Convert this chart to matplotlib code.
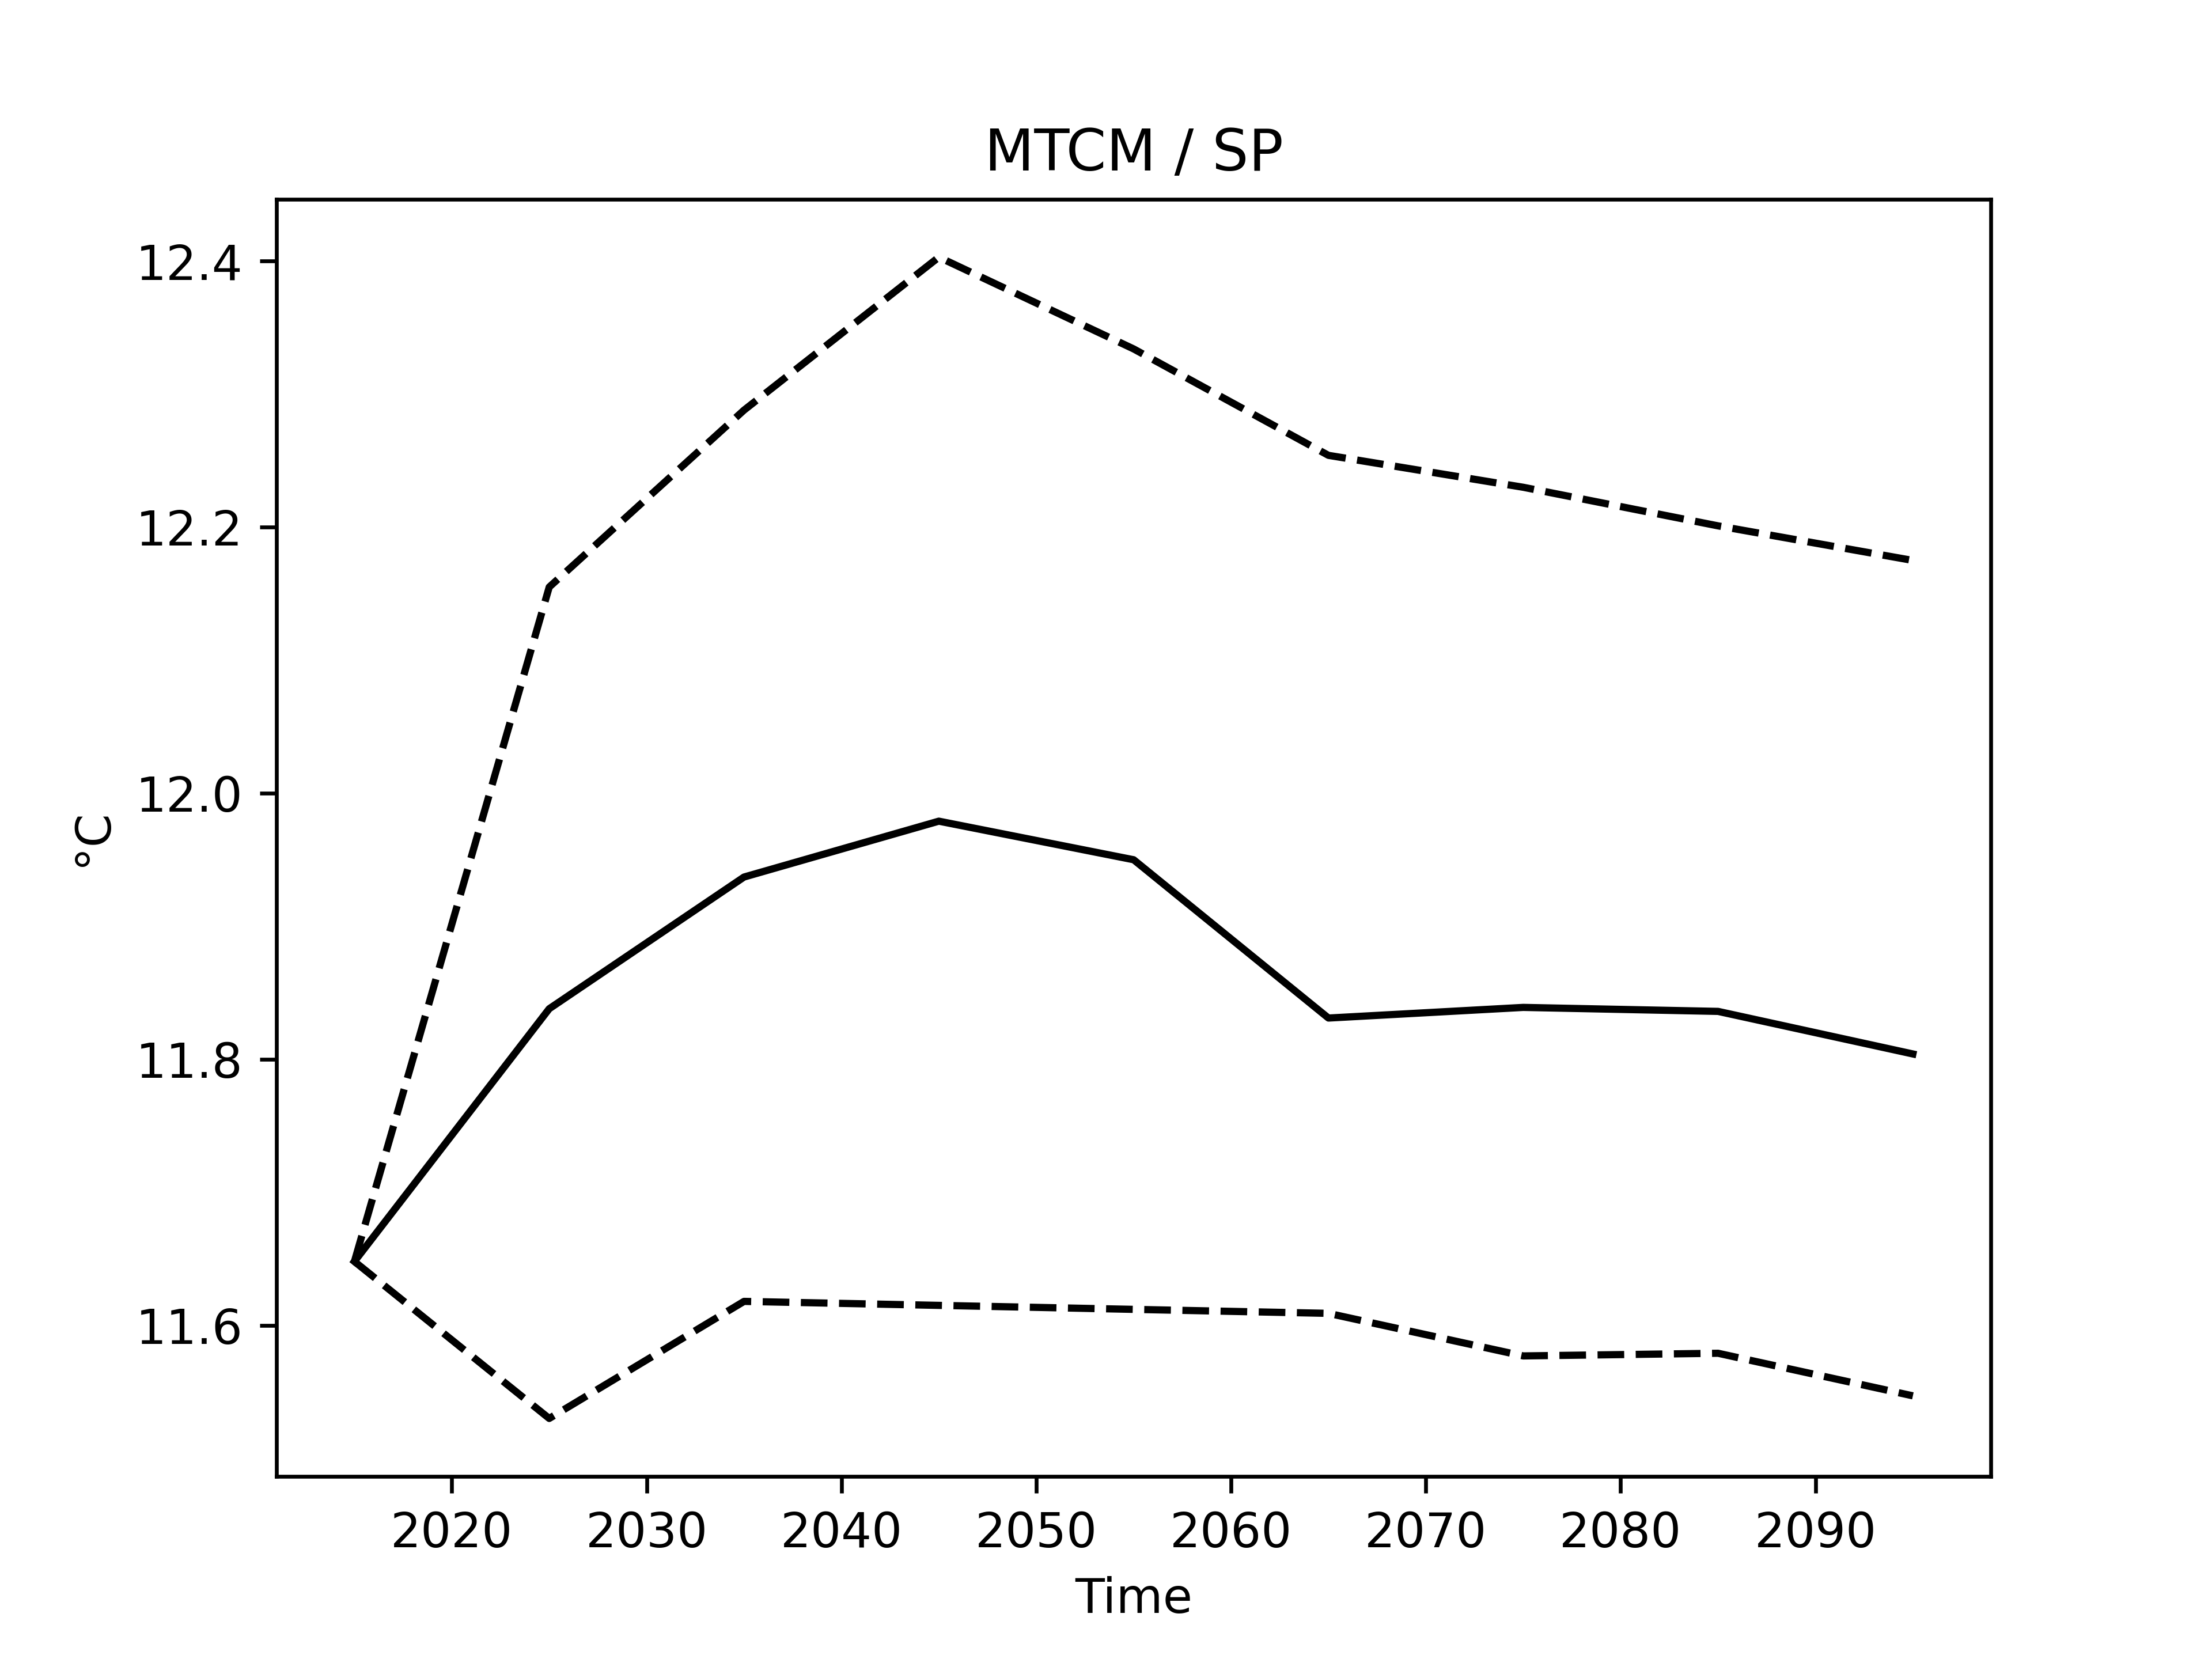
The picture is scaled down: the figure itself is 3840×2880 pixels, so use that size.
import matplotlib
matplotlib.use("Agg")
import matplotlib.pyplot as plt

years = [2015, 2025, 2035, 2045, 2055, 2065, 2075, 2085, 2095]
mean_vals = [11.648, 11.838, 11.937, 11.979, 11.950, 11.831, 11.839, 11.836, 11.804]
upper_vals = [11.648, 12.155, 12.288, 12.403, 12.334, 12.254, 12.230, 12.201, 12.175]
lower_vals = [11.648, 11.530, 11.618, 11.615, 11.612, 11.609, 11.577, 11.579, 11.547]

fig, ax = plt.subplots(figsize=(6.4, 4.8))
ax.plot(years, mean_vals, color="black", linestyle="-")
ax.plot(years, upper_vals, color="black", linestyle="--")
ax.plot(years, lower_vals, color="black", linestyle="--")
ax.set_title("MTCM / SP")
ax.set_xlabel("Time")
ax.set_ylabel("°C")
fig.savefig("out.png", dpi=600)
